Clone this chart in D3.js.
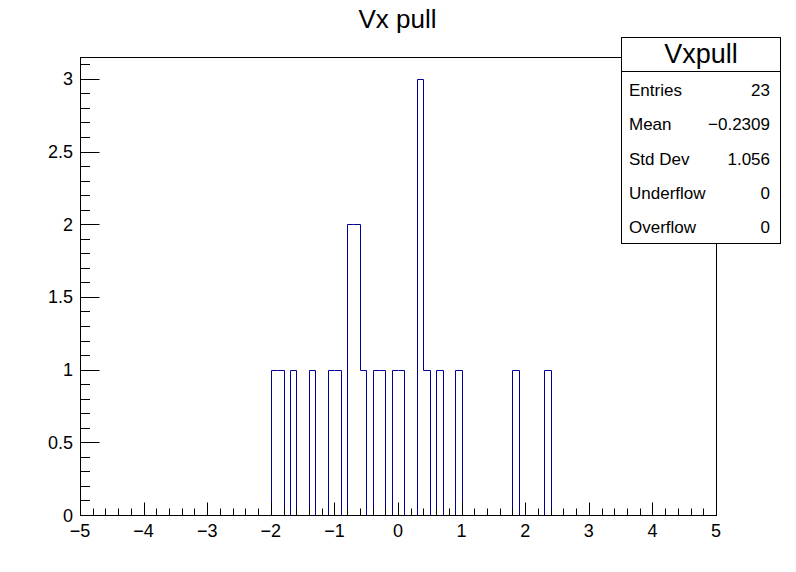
<!DOCTYPE html>
<html>
<head>
<meta charset="utf-8">
<script src="https://cdn.jsdelivr.net/npm/d3@7"></script>
<style>
  body { margin: 0; background: #fff; }
  svg { display: block; }
  text { font-family: "Liberation Sans", Arial, Helvetica, sans-serif; fill: #000; }
</style>
</head>
<body>
<svg id="chart" width="796" height="572"></svg>
<script>
// ---- data ----
const chartTitle = "Vx pull";
const histName = "Vxpull";
const xMin = -5, xMax = 5, nBins = 100;
// lower edges of the non-empty bins (bin width 0.1) and their contents
const binLowEdges = [-2.0, -1.9, -1.7, -1.4, -1.1, -1.0, -0.8, -0.7, -0.6, -0.4, -0.3, -0.1, 0.0, 0.3, 0.4, 0.6, 0.9, 1.8, 2.3];
const binCounts   = [1, 1, 1, 1, 1, 1, 2, 2, 1, 1, 1, 1, 1, 3, 1, 1, 1, 1, 1];
const yMaxAxis = 3.15;
const xTickValues = [-5, -4, -3, -2, -1, 0, 1, 2, 3, 4, 5];
const yTickValues = [0, 0.5, 1, 1.5, 2, 2.5, 3];
const statLabels = ["Entries", "Mean", "Std Dev", "Underflow", "Overflow"];
const statValues = ["23", "\u22120.2309", "1.056", "0", "0"];

// ---- layout ----
const svg = d3.select("#chart");
const L = 80, R = 716, T = 57, B = 515;
const x = d3.scaleLinear().domain([xMin, xMax]).range([L, R]);
const y = d3.scaleLinear().domain([0, yMaxAxis]).range([B, T]);
const histColor = "#000099";

// full bin contents
const binW = (xMax - xMin) / nBins;
const contents = new Array(nBins).fill(0);
binLowEdges.forEach((e, i) => {
  const k = Math.round((e - xMin) / binW);
  contents[k] += binCounts[i];
});

// step outline
const pts = [[xMin, 0]];
contents.forEach((c, k) => {
  const lo = xMin + k * binW, hi = lo + binW;
  pts.push([lo, c]); pts.push([hi, c]);
});
pts.push([xMax, 0]);
const line = d3.line().x(d => Math.round(x(d[0])) + 0.5).y(d => Math.round(y(d[1])) + 0.5);
svg.append("path").attr("d", line(pts))
  .attr("fill", "none").attr("stroke", histColor).attr("stroke-width", 1);

// frame
svg.append("rect").attr("x", L + 0.5).attr("y", T + 0.5)
  .attr("width", R - L).attr("height", B - T)
  .attr("fill", "none").attr("stroke", "#000").attr("stroke-width", 1);

// x axis ticks (pointing up)
const gx = svg.append("g");
const xMinor = d3.range(0, 51).map(i => xMin + i * 0.2);
xMinor.forEach(v => {
  const isMajor = Math.abs(v - Math.round(v)) < 1e-6;
  const len = isMajor ? 13 : 7;
  const px = Math.round(x(v)) + 0.5;
  gx.append("line").attr("x1", px).attr("x2", px)
    .attr("y1", B + 0.5).attr("y2", B + 0.5 - len)
    .attr("stroke", "#000").attr("stroke-width", 1);
});
gx.selectAll("text.xl").data(xTickValues).enter().append("text")
  .attr("x", d => x(d)).attr("y", 537)
  .attr("text-anchor", "middle").attr("font-size", 18)
  .text(d => d < 0 ? "\u2212" + Math.abs(d) : String(d));

// y axis ticks (pointing right)
const gy = svg.append("g");
const yMinor = d3.range(0, 32).map(i => i * 0.1);
yMinor.forEach(v => {
  const isMajor = Math.abs(v * 2 - Math.round(v * 2)) < 1e-6;
  const len = isMajor ? 19 : 9.5;
  const py = Math.round(y(v)) + 0.5;
  gy.append("line").attr("x1", L + 0.5).attr("x2", L + 0.5 + len)
    .attr("y1", py).attr("y2", py)
    .attr("stroke", "#000").attr("stroke-width", 1);
});
gy.selectAll("text.yl").data(yTickValues).enter().append("text")
  .attr("x", 73).attr("y", d => y(d) + 6.5)
  .attr("text-anchor", "end").attr("font-size", 18)
  .text(d => String(d));

// title
svg.append("text").attr("x", 397.5).attr("y", 28)
  .attr("text-anchor", "middle").attr("font-size", 26)
  .text(chartTitle);

// stats box
const sx = 621.5, sy = 37.5, sw = 159, sh = 206, sep = 71.5;
svg.append("rect").attr("x", sx).attr("y", sy).attr("width", sw).attr("height", sh)
  .attr("fill", "#fff").attr("stroke", "#000").attr("stroke-width", 1);
svg.append("line").attr("x1", sx).attr("x2", sx + sw).attr("y1", sep).attr("y2", sep)
  .attr("stroke", "#000").attr("stroke-width", 1);
svg.append("text").attr("x", sx + sw / 2).attr("y", 63)
  .attr("text-anchor", "middle").attr("font-size", 27).text(histName);
const rowH = (sy + sh - sep) / statLabels.length;
statLabels.forEach((lab, i) => {
  const cy = sep + rowH * (i + 0.5);
  svg.append("text").attr("x", 629).attr("y", cy + 7)
    .attr("font-size", 17).text(lab);
  svg.append("text").attr("x", 770).attr("y", cy + 7)
    .attr("text-anchor", "end").attr("font-size", 17).text(statValues[i]);
});
</script>
</body>
</html>
